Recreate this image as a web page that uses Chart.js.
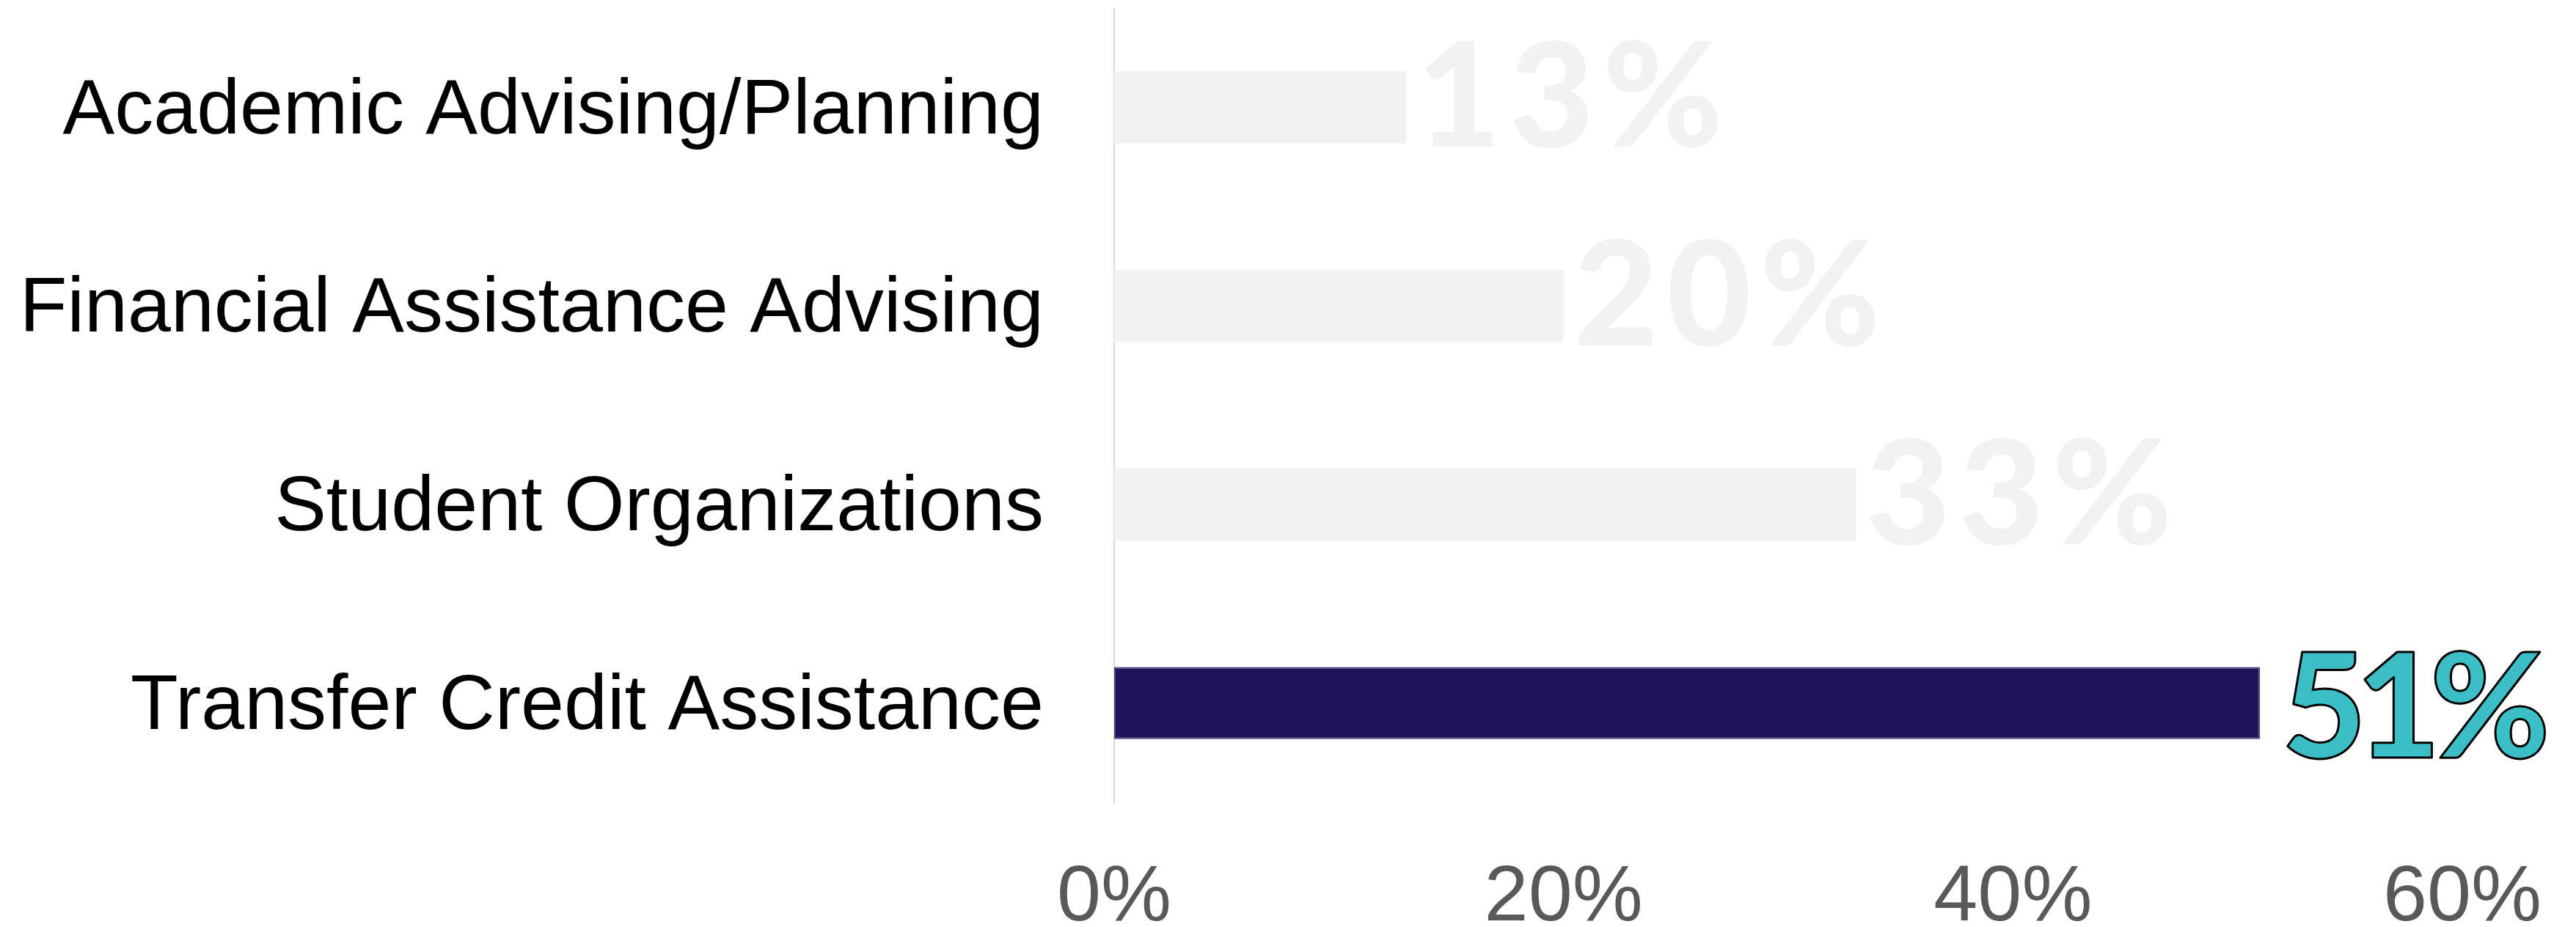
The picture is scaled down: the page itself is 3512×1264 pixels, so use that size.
<!DOCTYPE html>
<html>
<head>
<meta charset="utf-8">
<script src="https://cdn.jsdelivr.net/npm/chart.js@4"></script>
<style>
  html, body { margin: 0; padding: 0; background: #ffffff; }
  #wrap { width: 3512px; height: 1264px; position: relative; }
</style>
</head>
<body>
<div id="wrap"><canvas id="myChart"></canvas></div>
<script>
// chart values
var services = [
    'Academic Advising/Planning',
    'Financial Assistance Advising',
    'Student Organizations',
    'Transfer Credit Assistance'
];
var percents = [13, 20, 33, 51];
var axisTicks = [0, 20, 40, 60];

// the last bar is the highlighted one
var barColors = ['#f2f2f2', '#f2f2f2', '#f2f2f2', '#22145a'];
var barBorders = ['#f2f2f2', '#f2f2f2', '#f2f2f2', '#4a3f80'];
var labelFill = ['#f2f2f2', '#f2f2f2', '#f2f2f2', '#3bbec5'];

// big percentage text at the end of each bar
var valueLabels = {
    id: 'valueLabels',
    afterDatasetsDraw: function(chart) {
        var ctx = chart.ctx;
        var meta = chart.getDatasetMeta(0);
        ctx.save();
        ctx.font = '900 198px Lato';
        ctx.textAlign = 'left';
        ctx.textBaseline = 'alphabetic';
        ctx.lineJoin = 'round';
        meta.data.forEach(function(bar, i) {
            var hot = i === percents.length - 1;
            var text = percents[i] + '%';
            var x = bar.x + (hot ? 30 : 14);
            var y = bar.y + (hot ? 74 : 54);
            ctx.letterSpacing = hot ? '-14px' : '12px';
            ctx.fillStyle = labelFill[i];
            ctx.fillText(text, x, y);
            if (hot) {
                ctx.lineWidth = 3;
                ctx.strokeStyle = '#000000';
                ctx.strokeText(text, x, y);
            }
        });
        ctx.restore();
    }
};

var ctx = document.getElementById('myChart').getContext('2d');
var myChart = new Chart(ctx, {
    type: 'bar',
    data: {
        labels: services,
        datasets: [{
            data: percents,
            backgroundColor: barColors,
            borderColor: barBorders,
            borderWidth: [0, 0, 0, 2],
            borderSkipped: false,
            barPercentage: 0.362,
            categoryPercentage: 1
        }]
    },
    options: {
        indexAxis: 'y',
        responsive: true,
        maintainAspectRatio: false,
        animation: false,
        layout: {
            padding: { top: 11, right: 155, bottom: 0, left: 0 }
        },
        plugins: {
            legend: { display: false },
            tooltip: { enabled: false }
        },
        scales: {
            x: {
                min: axisTicks[0],
                max: axisTicks[axisTicks.length - 1],
                afterBuildTicks: function(scale) {
                    scale.ticks = axisTicks.map(function(v) { return { value: v }; });
                },
                grid: { display: false, drawTicks: false },
                border: { display: false },
                ticks: {
                    color: '#595959',
                    padding: 66,
                    font: { family: 'Liberation Sans', size: 108 },
                    callback: function(v) { return v + '%'; }
                },
                afterFit: function(scale) {
                    scale.height = 170;
                    scale.paddingLeft = 0;
                    scale.paddingRight = 0;
                }
            },
            y: {
                grid: { display: false, drawTicks: false },
                border: { display: true, color: '#d9d9d9', width: 2 },
                ticks: {
                    color: '#000000',
                    padding: 96,
                    labelOffset: 6,
                    font: { family: 'Liberation Sans', size: 106 }
                },
                afterFit: function(scale) {
                    scale.width = 1519;
                    scale.paddingTop = 0;
                    scale.paddingBottom = 0;
                }
            }
        }
    },
    plugins: [valueLabels]
});
</script>
</body>
</html>
